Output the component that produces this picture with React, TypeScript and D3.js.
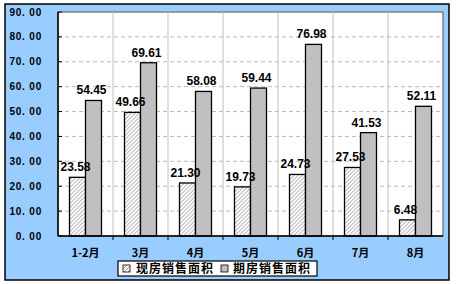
import React, { useEffect, useRef } from "react";
import * as d3 from "d3";

// data
const categories = ["1-2月", "3月", "4月", "5月", "6月", "7月", "8月"];
const seriesNames = ["现房销售面积", "期房销售面积"];
const xianfang = [23.58, 49.66, 21.3, 19.73, 24.73, 27.53, 6.48];
const qifang = [54.45, 69.61, 58.08, 59.44, 76.98, 41.53, 52.11];
const yTicks = [0, 10, 20, 30, 40, 50, 60, 70, 80, 90];

const W = 456;
const H = 284;
const BG = "#99CCFF";
const BAR_GRAY = "#C0C0C0";
const FONT = "'Liberation Sans', Arial, sans-serif";
const CJK = "'Noto Sans CJK SC', sans-serif";

const App = () => {
  const ref = useRef<SVGSVGElement>(null);

  useEffect(() => {
    const svg = d3.select(ref.current);
    svg.selectAll("*").remove();

    const plot = { left: 58, top: 12, right: 443, bottom: 236 };

    const x0 = d3.scaleBand().domain(categories).range([plot.left, plot.right]).padding(0);
    const pairW = 32;
    const x1 = d3.scaleBand().domain(seriesNames).range([0, pairW]).padding(0);
    const y = d3.scaleLinear().domain([0, 90]).range([plot.bottom, plot.top]);

    // hatch pattern
    const defs = svg.append("defs");
    const pat = defs.append("pattern")
      .attr("id", "hatch")
      .attr("patternUnits", "userSpaceOnUse")
      .attr("width", 4)
      .attr("height", 4);
    pat.append("rect").attr("width", 4).attr("height", 4).attr("fill", "#fff");
    pat.append("path")
      .attr("d", "M-1,1 l2,-2 M0,4 l4,-4 M3,5 l2,-2")
      .attr("stroke", "#808080")
      .attr("stroke-width", 0.8);

    // chart background
    svg.append("rect")
      .attr("x", 5).attr("y", 4).attr("width", 444).attr("height", 276)
      .attr("fill", BG).attr("stroke", "#000").attr("stroke-width", 1.5);

    // plot area
    svg.append("rect")
      .attr("x", plot.left).attr("y", plot.top)
      .attr("width", plot.right - plot.left).attr("height", plot.bottom - plot.top)
      .attr("fill", "#fff").attr("stroke", "#808080").attr("stroke-width", 1.5);

    // horizontal dashed grid
    svg.append("g").selectAll("line")
      .data(yTicks.slice(1, -1))
      .join("line")
      .attr("x1", plot.left).attr("x2", plot.right)
      .attr("y1", d => y(d)).attr("y2", d => y(d))
      .attr("stroke", "#B8B8B8").attr("stroke-dasharray", "4,3");

    // vertical category grid
    svg.append("g").selectAll("line")
      .data(categories.slice(1))
      .join("line")
      .attr("x1", d => x0(d)!).attr("x2", d => x0(d)!)
      .attr("y1", plot.top).attr("y2", plot.bottom)
      .attr("stroke", "#C0C0C0");

    const data = categories.map((c, i) => ({ cat: c, vals: [xianfang[i], qifang[i]] }));
    const off = (x0.bandwidth() - pairW) / 2;

    const groups = svg.append("g").selectAll("g")
      .data(data)
      .join("g")
      .attr("transform", d => `translate(${x0(d.cat)! + off},0)`);

    groups.selectAll("rect")
      .data(d => d.vals.map((v, j) => ({ name: seriesNames[j], v })))
      .join("rect")
      .attr("x", d => x1(d.name)!)
      .attr("y", d => y(d.v))
      .attr("width", x1.bandwidth())
      .attr("height", d => y(0) - y(d.v))
      .attr("fill", (d, j) => (j === 0 ? "url(#hatch)" : BAR_GRAY))
      .attr("stroke", "#000")
      .attr("stroke-width", 1.3);

    groups.selectAll("text")
      .data(d => d.vals.map((v, j) => ({ name: seriesNames[j], v })))
      .join("text")
      .attr("x", d => x1(d.name)! + x1.bandwidth() / 2 - 2)
      .attr("y", d => y(d.v) - 6)
      .attr("text-anchor", "middle")
      .attr("font-family", FONT)
      .attr("font-weight", "bold")
      .attr("font-size", 12)
      .attr("fill", "#000")
      .text(d => d3.format(".2f")(d.v));

    // axes lines
    svg.append("line")
      .attr("x1", plot.left).attr("x2", plot.left)
      .attr("y1", plot.top).attr("y2", plot.bottom)
      .attr("stroke", "#000").attr("stroke-width", 1.5);
    svg.append("line")
      .attr("x1", plot.left).attr("x2", plot.right)
      .attr("y1", plot.bottom).attr("y2", plot.bottom)
      .attr("stroke", "#000").attr("stroke-width", 1.5);

    // y ticks and labels
    const yAx = svg.append("g");
    yAx.selectAll("line")
      .data(yTicks)
      .join("line")
      .attr("x1", plot.left).attr("x2", plot.left + 4)
      .attr("y1", d => y(d)).attr("y2", d => y(d))
      .attr("stroke", "#000");
    yAx.selectAll("text")
      .data(yTicks)
      .join("text")
      .attr("x", 42)
      .attr("y", d => y(d) + 3.5)
      .attr("text-anchor", "end")
      .attr("font-family", FONT)
      .attr("font-weight", "bold")
      .attr("font-size", 10)
      .attr("letter-spacing", 0.8)
      .attr("fill", "#000")
      .text(d => d3.format(".2f")(d).replace(".", ". "));

    // x ticks and labels
    const xAx = svg.append("g");
    xAx.selectAll("line")
      .data(categories.slice(1))
      .join("line")
      .attr("x1", d => x0(d)!).attr("x2", d => x0(d)!)
      .attr("y1", plot.bottom).attr("y2", plot.bottom + 4)
      .attr("stroke", "#000");
    xAx.selectAll("text")
      .data(categories)
      .join("text")
      .attr("x", d => x0(d)! + x0.bandwidth() / 2)
      .attr("y", 257)
      .attr("text-anchor", "middle")
      .attr("font-family", CJK)
      .attr("font-weight", "bold")
      .attr("font-size", 11)
      .attr("fill", "#000")
      .text(d => d);

    // legend
    const lg = svg.append("g");
    lg.append("rect")
      .attr("x", 118).attr("y", 261).attr("width", 199).attr("height", 15)
      .attr("fill", "#fff").attr("stroke", "#000").attr("stroke-width", 1.2);
    const items = [
      { name: seriesNames[0], fill: "url(#hatch)", sx: 123, tx: 136 },
      { name: seriesNames[1], fill: BAR_GRAY, sx: 221, tx: 233 },
    ];
    const it = lg.selectAll("g.item").data(items).join("g").attr("class", "item");
    it.append("rect")
      .attr("x", d => d.sx).attr("y", 265).attr("width", 7).attr("height", 7)
      .attr("fill", d => d.fill).attr("stroke", "#000").attr("stroke-width", 0.8);
    it.append("text")
      .attr("x", d => d.tx).attr("y", 273)
      .attr("font-family", CJK)
      .attr("font-weight", "bold")
      .attr("font-size", 12)
      .attr("letter-spacing", 1)
      .attr("fill", "#000")
      .text(d => d.name);
  }, []);

  return (
    <div style={{ position: "absolute", left: 0, top: 0 }}>
      <svg ref={ref} width={W} height={H} style={{ display: "block" }} />
    </div>
  );
};

export default App;
